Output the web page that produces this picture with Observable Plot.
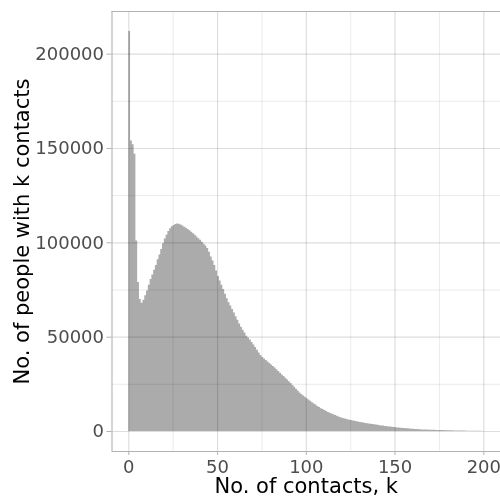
<!DOCTYPE html>
<html><head><meta charset="utf-8">
<script src="https://cdn.jsdelivr.net/npm/d3@7"></script>
<script src="https://cdn.jsdelivr.net/npm/@observablehq/plot@0.6"></script>
<style>body{margin:0;background:#fff}</style>
</head><body><div id="chart"></div>
<script>
// number of people (count) with k contacts, k = 0..199
const counts = [
  212000,154000,152000,147000,101000,79000,70000,68000,69500,72000,
  74500,77500,80500,83000,85500,88000,91000,93500,96500,99500,
  102000,104000,106000,107500,108500,109200,109700,110000,109800,109400,
  108900,108300,107700,107100,106400,105600,104800,104000,103100,102200,
  101300,100300,99300,98300,97000,95000,92500,90300,88000,85000,
  82200,79800,77500,75200,72800,70300,68300,66500,64700,62800,
  60800,58900,57000,55300,53700,52200,50500,49500,48500,47200,
  45900,44500,43100,41600,40300,39200,38400,37600,36800,36000,
  35200,34400,33600,32700,31800,30900,30000,29100,28200,27300,
  26400,25400,24400,23400,22400,21400,20400,19600,18800,18100,
  17400,16700,16000,15300,14600,14000,13300,12700,12100,11600,
  11100,10600,10100,9700,9300,8900,8500,8100,7700,7300,
  7000,6700,6500,6200,6000,5800,5600,5400,5200,5000,
  4800,4600,4450,4300,4150,4000,3850,3700,3550,3400,
  3250,3100,2950,2850,2700,2600,2450,2350,2250,2100,
  2000,1900,1800,1720,1640,1560,1480,1400,1320,1250,
  1180,1110,1040,970,900,860,820,790,750,720,
  680,650,620,590,560,530,500,480,450,420,
  400,370,350,330,300,280,260,240,220,200,
  190,180,170,160,150,140,130,120,110,100
];
const kValues = counts.map((_, i) => i);
const xMajor = [0, 50, 100, 150, 200];
const xMinor = [25, 75, 125, 175];
const yMajor = [0, 50000, 100000, 150000, 200000];
const yMinor = [25000, 75000, 125000, 175000];
const xTitle = "No. of contacts, k";
const yTitle = "No. of people with k contacts";

const data = kValues.map((k, i) => ({k, n: counts[i]}));

const xDomain = [-9.46, 209.4];
const yDomain = [-10600, 222600];
const font = "DejaVu Sans, sans-serif";

const chart = Plot.plot({
  width: 500,
  height: 496,
  marginLeft: 111.5,
  marginRight: 0,
  marginTop: 11,
  marginBottom: 45,
  style: {fontFamily: font, background: "#fff", overflow: "visible"},
  x: {domain: xDomain, axis: null},
  y: {domain: yDomain, axis: null},
  marks: [
    Plot.areaY(data, {x: "k", y: "n", curve: "step-after", fill: "#ababab"}),
    Plot.ruleX(xMinor, {stroke: "#dedede", strokeWidth: 0.6, mixBlendMode: "multiply"}),
    Plot.ruleY(yMinor, {stroke: "#dedede", strokeWidth: 0.6, mixBlendMode: "multiply"}),
    Plot.ruleX(xMajor, {stroke: "#dedede", strokeWidth: 1.2, mixBlendMode: "multiply"}),
    Plot.ruleY(yMajor, {stroke: "#dedede", strokeWidth: 1.2, mixBlendMode: "multiply"}),
    Plot.ruleX([xDomain[0]], {stroke: "#b3b3b3", strokeWidth: 1.1}),
    Plot.ruleY(yDomain, {stroke: "#b3b3b3", strokeWidth: 1.1}),
    Plot.axisX({ticks: xMajor, tickSize: 4, tickPadding: 4.5, fontSize: 18, color: "#4d4d4d", stroke: "#b3b3b3", label: null, tickFormat: d3.format("d")}),
    Plot.axisY({ticks: yMajor, tickSize: 5, tickPadding: 3, fontSize: 18, color: "#4d4d4d", stroke: "#b3b3b3", label: null, tickFormat: d3.format("d")}),
    Plot.text([xTitle], {frameAnchor: "bottom", lineAnchor: "bottom", textAnchor: "middle", dy: 41, text: d => d, fontSize: 21, fill: "#000"}),
    Plot.text([yTitle], {frameAnchor: "left", lineAnchor: "bottom", textAnchor: "middle", rotate: -90, dx: -83.5, text: d => d, fontSize: 21, fill: "#000"})
  ]
});
document.getElementById("chart").appendChild(chart);
</script>
</body></html>
